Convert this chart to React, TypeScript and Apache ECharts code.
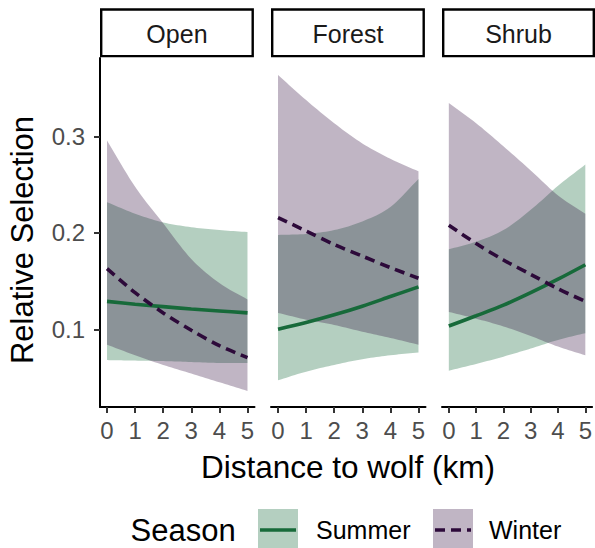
import React, { useEffect, useRef } from "react";
import * as echarts from "echarts";

// ---- data ----
const panels = ["Open", "Forest", "Shrub"];
const distance = [0, 1, 2, 3, 4, 5];
const distanceTicks = [0, 1, 2, 3, 4, 5];
const selectionTicks = [0.1, 0.2, 0.3];

const openSummerFit = [0.129, 0.126, 0.1235, 0.121, 0.119, 0.117];
const openSummerLo = [0.068, 0.0675, 0.067, 0.066, 0.065, 0.065];
const openSummerHi = [0.232, 0.22, 0.211, 0.206, 0.203, 0.201];
const openWinterFit = [0.163, 0.138, 0.117, 0.099, 0.083, 0.0705];
const openWinterLo = [0.084, 0.073, 0.063, 0.054, 0.045, 0.036];
const openWinterHi = [0.296, 0.248, 0.21, 0.173, 0.148, 0.131];

const forestSummerFit = [0.1, 0.107, 0.115, 0.124, 0.134, 0.144];
const forestSummerLo = [0.047, 0.056, 0.063, 0.069, 0.073, 0.076];
const forestSummerHi = [0.198, 0.199, 0.203, 0.212, 0.227, 0.256];
const forestWinterFit = [0.216, 0.202, 0.188, 0.176, 0.164, 0.153];
const forestWinterLo = [0.117, 0.11, 0.1045, 0.0975, 0.091, 0.084];
const forestWinterHi = [0.364, 0.338, 0.314, 0.293, 0.277, 0.264];

const shrubSummerFit = [0.1034, 0.114, 0.125, 0.138, 0.152, 0.167];
const shrubSummerLo = [0.057, 0.064, 0.0716, 0.08, 0.089, 0.096];
const shrubSummerHi = [0.183, 0.191, 0.203, 0.224, 0.249, 0.271];
const shrubWinterFit = [0.208, 0.189, 0.172, 0.157, 0.142, 0.129];
const shrubWinterLo = [0.118, 0.111, 0.103, 0.093, 0.082, 0.073];
const shrubWinterHi = [0.335, 0.314, 0.29, 0.265, 0.239, 0.22];

const summerFit = [openSummerFit, forestSummerFit, shrubSummerFit];
const summerLo = [openSummerLo, forestSummerLo, shrubSummerLo];
const summerHi = [openSummerHi, forestSummerHi, shrubSummerHi];
const winterFit = [openWinterFit, forestWinterFit, shrubWinterFit];
const winterLo = [openWinterLo, forestWinterLo, shrubWinterLo];
const winterHi = [openWinterHi, forestWinterHi, shrubWinterHi];

// ---- style ----
const FONT = "'Liberation Sans', Arial, sans-serif";
const SUMMER = "#176a3a";
const WINTER = "#2d0a3a";
const SUMMER_FILL = "rgba(23,106,58,0.32)";
const WINTER_FILL = "rgba(45,10,58,0.3)";
const DASH = [10, 6];
const LW = 3.6;
const SMOOTH = 0.3;

const panelLeft = [100, 271, 442];
const panelWidth = 154.5;
const panelTop = 58;
const panelHeight = 349;

function pairs(xs: number[], ys: number[]) {
  return xs.map((x, k) => [x, ys[k]]);
}

// smooth curve through pixel points (Catmull-Rom / Hermite), rendering only
function spline(pts: number[][]): number[][] {
  const n = pts.length;
  const out: number[][] = [];
  const tan = pts.map((_, i) => {
    const a = pts[Math.max(0, i - 1)];
    const b = pts[Math.min(n - 1, i + 1)];
    const d = Math.min(n - 1, i + 1) - Math.max(0, i - 1);
    return [(b[0] - a[0]) / d, (b[1] - a[1]) / d];
  });
  for (let i = 0; i < n - 1; i++) {
    const p0 = pts[i], p1 = pts[i + 1], m0 = tan[i], m1 = tan[i + 1];
    const steps = 10;
    for (let s = 0; s < steps; s++) {
      const t = s / steps;
      const t2 = t * t, t3 = t2 * t;
      const h00 = 2 * t3 - 3 * t2 + 1, h10 = t3 - 2 * t2 + t, h01 = -2 * t3 + 3 * t2, h11 = t3 - t2;
      out.push([
        h00 * p0[0] + h10 * m0[0] + h01 * p1[0] + h11 * m1[0],
        h00 * p0[1] + h10 * m0[1] + h01 * p1[1] + h11 * m1[1],
      ]);
    }
  }
  out.push(pts[n - 1]);
  return out;
}

function bandSeries(i: number, lo: number[], hi: number[], fill: string) {
  return {
    type: "custom",
    coordinateSystem: "cartesian2d",
    xAxisIndex: i,
    yAxisIndex: i,
    silent: true,
    encode: { x: 0, y: [1, 2] },
    data: distance.map((x, k) => [x, lo[k], hi[k]]),
    renderItem: (params: any, api: any) => {
      if (params.dataIndex !== 0) return null;
      const upper = spline(distance.map((x, k) => api.coord([x, hi[k]])));
      const lower = spline(distance.map((x, k) => api.coord([x, lo[k]])));
      const points = upper.concat(lower.reverse());
      return {
        type: "polygon",
        shape: { points },
        style: { fill, stroke: null },
      };
    },
  };
}

function buildSeries() {
  const out: any[] = [];
  panels.forEach((_, i) => {
    out.push(bandSeries(i, summerLo[i], summerHi[i], SUMMER_FILL));
    out.push(bandSeries(i, winterLo[i], winterHi[i], WINTER_FILL));
  });
  panels.forEach((_, i) => {
    out.push({
      type: "line",
      name: "Summer",
      xAxisIndex: i,
      yAxisIndex: i,
      smooth: SMOOTH,
      symbol: "none",
      silent: true,
      z: 3,
      lineStyle: { color: SUMMER, width: LW, type: "solid" },
      data: pairs(distance, summerFit[i]),
    });
    out.push({
      type: "line",
      name: "Winter",
      xAxisIndex: i,
      yAxisIndex: i,
      smooth: SMOOTH,
      symbol: "none",
      silent: true,
      z: 3,
      lineStyle: { color: WINTER, width: LW, type: DASH },
      data: pairs(distance, winterFit[i]),
    });
  });
  return out;
}

function buildGraphic() {
  const g: any[] = [];
  panels.forEach((name, i) => {
    const x0 = panelLeft[i] + 1.2;
    const w = i === 2 ? 595 - 1.2 - x0 : 151.5;
    g.push({
      type: "rect",
      shape: { x: x0, y: 9.5, width: w, height: 46.6 },
      style: { fill: "#fff", stroke: "#000", lineWidth: 2.4 },
    });
    g.push({
      type: "text",
      x: x0 + w / 2,
      y: 34,
      style: {
        text: name,
        font: `25px ${FONT}`,
        fill: "#1a1a1a",
        align: "center",
        verticalAlign: "middle",
      },
    });
  });
  g.push({
    type: "text",
    x: 22.5,
    y: 240,
    rotation: Math.PI / 2,
    style: {
      text: "Relative Selection",
      font: `31px ${FONT}`,
      fill: "#000",
      align: "center",
      verticalAlign: "middle",
    },
  });
  g.push({
    type: "text",
    x: 348,
    y: 466.5,
    style: {
      text: "Distance to wolf (km)",
      font: `31.5px ${FONT}`,
      fill: "#000",
      align: "center",
      verticalAlign: "middle",
    },
  });
  // legend
  g.push({
    type: "text",
    x: 130.5,
    y: 530,
    style: { text: "Season", font: `31px ${FONT}`, fill: "#000", align: "left", verticalAlign: "middle" },
  });
  g.push({ type: "rect", shape: { x: 258, y: 509, width: 40, height: 40 }, style: { fill: SUMMER_FILL } });
  g.push({
    type: "line",
    shape: { x1: 260, y1: 530, x2: 296, y2: 530 },
    style: { stroke: SUMMER, lineWidth: LW },
  });
  g.push({
    type: "text",
    x: 316,
    y: 530,
    style: { text: "Summer", font: `25px ${FONT}`, fill: "#000", align: "left", verticalAlign: "middle" },
  });
  g.push({ type: "rect", shape: { x: 433, y: 509, width: 40, height: 40 }, style: { fill: WINTER_FILL } });
  g.push({
    type: "line",
    shape: { x1: 435, y1: 530, x2: 471, y2: 530 },
    style: { stroke: WINTER, lineWidth: LW, lineDash: DASH },
  });
  g.push({
    type: "text",
    x: 489,
    y: 530,
    style: { text: "Winter", font: `25px ${FONT}`, fill: "#000", align: "left", verticalAlign: "middle" },
  });
  return g;
}

export default function App() {
  const ref = useRef<HTMLDivElement>(null);
  useEffect(() => {
    if (!ref.current) return;
    const chart = echarts.init(ref.current, undefined, { renderer: "svg" });
    const option: any = {
      animation: false,
      grid: panels.map((_, i) => ({
        left: panelLeft[i],
        top: panelTop,
        width: panelWidth,
        height: panelHeight,
        containLabel: false,
      })),
      xAxis: panels.map((_, i) => ({
        type: "value",
        gridIndex: i,
        min: -0.25,
        max: 5.25,
        axisLine: { show: true, onZero: false, lineStyle: { color: "#000", width: 2 } },
        axisTick: { show: true, customValues: distanceTicks, length: 6, lineStyle: { color: "#333", width: 2 } },
        axisLabel: {
          customValues: distanceTicks,
          margin: 11,
          fontSize: 24,
          fontFamily: FONT,
          color: "#4d4d4d",
        },
        splitLine: { show: false },
      })),
      yAxis: panels.map((_, i) => ({
        type: "value",
        gridIndex: i,
        min: 0.0193,
        max: 0.3817,
        show: i === 0,
        axisLine: { show: true, onZero: false, lineStyle: { color: "#000", width: 2 } },
        axisTick: { show: true, customValues: selectionTicks, length: 6, lineStyle: { color: "#333", width: 2 } },
        axisLabel: {
          customValues: selectionTicks,
          margin: 15,
          fontSize: 24,
          fontFamily: FONT,
          color: "#4d4d4d",
          formatter: (v: number) => v.toFixed(1),
        },
        splitLine: { show: false },
      })),
      series: buildSeries(),
      graphic: buildGraphic(),
    };
    chart.setOption(option);
    return () => chart.dispose();
  }, []);
  return (
    <div
      ref={ref}
      style={{ position: "absolute", left: 0, top: 0, width: 595, height: 548 }}
    />
  );
}
